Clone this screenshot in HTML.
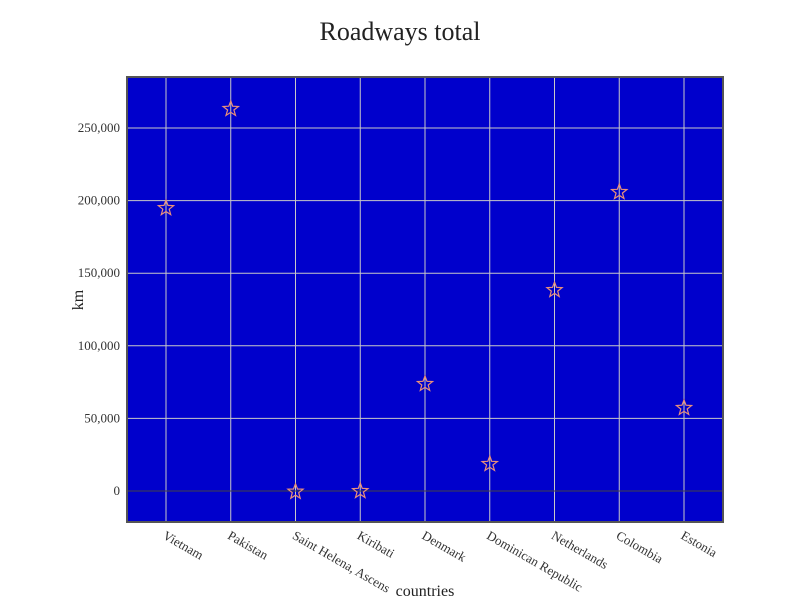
<!DOCTYPE html>
<html><head><meta charset="utf-8"><style>
body{margin:0;background:#fff;font-family:"Liberation Serif",serif;}
</style></head><body>
<svg id="c" width="800" height="600" xmlns="http://www.w3.org/2000/svg">
<text x="400" y="40" text-anchor="middle" font-size="26" fill="#222">Roadways total</text>
<rect x="127" y="77" width="596" height="445" fill="#0000cc" stroke="#555" stroke-width="2"/>
<g id="grid"></g><g id="marks"></g><g id="ticks"></g>
<text x="425" y="596" text-anchor="middle" font-size="16" fill="#222">countries</text>
<text transform="translate(83,300) rotate(-90)" text-anchor="middle" font-size="16" fill="#222">km</text>
</svg>
<script>
const categories=["Vietnam","Pakistan","Saint Helena, Ascension, and Tristan da Cunha","Kiribati","Denmark","Dominican Republic","Netherlands","Colombia","Estonia"];
const values=[195500,263800,200,670,74400,19300,139100,206600,57900];
const yTicks=[0,50000,100000,150000,200000,250000];
const ns="http://www.w3.org/2000/svg";
const x0=166,dx=64.75;
function xs(i){return x0+i*dx;}
function ys(v){return 491-v*(363/250000);}
function mk(t,a,p){const e=document.createElementNS(ns,t);for(const k in a)e.setAttribute(k,a[k]);p.appendChild(e);return e;}
const grid=document.getElementById('grid'),marks=document.getElementById('marks'),ticks=document.getElementById('ticks');
categories.forEach((c,i)=>{
 const l=mk('line',{x1:xs(i),x2:xs(i),y1:78,y2:521,stroke:'#c8c8c8','stroke-width':1},grid);
 
 
 const t=mk('text',{x:xs(i)-4,y:538,'font-size':13,fill:'#333',transform:`rotate(30 ${xs(i)-4} 538)`},ticks);
 t.textContent=c;
 if(c.length>22){t.textContent="Saint Helena, Ascens";}
 
 
});
yTicks.forEach(v=>{
 const l=mk('line',{x1:128,x2:722,y1:ys(v),y2:ys(v),stroke:v===0?'#444':'#c8c8c8','stroke-width':1},grid);
 
 
 const t=mk('text',{x:120,y:ys(v)+4,'font-size':13,fill:'#333','text-anchor':'end'},ticks);
 t.textContent=v.toLocaleString('en-US');
 
 
});
function star(cx,cy,R){const r=R*0.42;let p=[];for(let k=0;k<10;k++){const a=-Math.PI/2+k*Math.PI/5,rr=k%2?r:R;p.push((cx+rr*Math.cos(a)).toFixed(1)+','+(cy+rr*Math.sin(a)).toFixed(1));}return p.join(' ');}
values.forEach((v,i)=>{
 const s=mk('polygon',{points:star(xs(i),ys(v)+1,8),fill:'none',stroke:'#e8907a','stroke-width':1.2},marks);
 
 
});
</script>
</body></html>
